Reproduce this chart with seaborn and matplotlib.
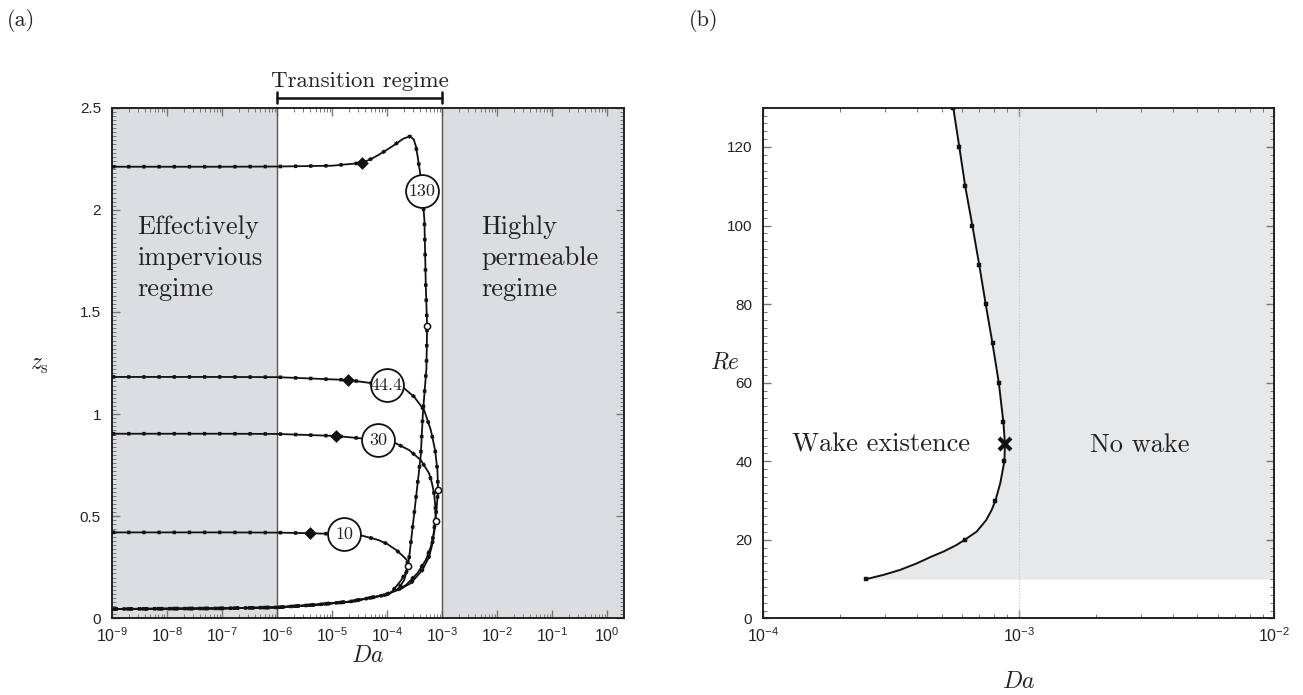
import numpy as np
import pandas as pd
import matplotlib
matplotlib.use("Agg")
import matplotlib.pyplot as plt
import matplotlib.ticker as mticker
import seaborn as sns

# ---------------- panel (a): separation position z_s against Da ----------------
re_tags = ["10", "30", "44.4", "130"]

# lower (attached) branch shared by all Re, traced from Da ~ 1e-4 back to 1e-9
da_tail = [1.2e-4, 9.3e-5, 4.4e-5, 2.1e-5, 4.7e-6, 1.0e-6, 1e-7, 1e-9]
z_tail = [0.128, 0.115, 0.098, 0.082, 0.066, 0.054, 0.049, 0.046]

da_re10 = [1e-9, 1e-7, 1e-6, 3.9e-6, 1.67e-5, 3.53e-5, 6.9e-5, 1.0e-4, 1.46e-4, 1.9e-4,
           2.28e-4, 2.42e-4, 2.15e-4, 1.78e-4, 1.45e-4]
z_re10 = [0.421, 0.421, 0.420, 0.417, 0.412, 0.405, 0.384, 0.365, 0.335, 0.308,
          0.286, 0.258, 0.220, 0.185, 0.155]

da_re30 = [1e-9, 1e-7, 1e-6, 1.19e-5, 6.98e-5, 1.445e-4, 2.52e-4, 4.10e-4, 5.81e-4, 6.5e-4,
           7.14e-4, 7.55e-4, 7.67e-4, 7.14e-4, 6.24e-4, 5.06e-4, 3.56e-4, 2.20e-4, 1.6e-4]
z_re30 = [0.904, 0.904, 0.903, 0.893, 0.873, 0.857, 0.824, 0.775, 0.710, 0.665,
          0.612, 0.547, 0.478, 0.417, 0.351, 0.286, 0.221, 0.163, 0.142]

da_re44 = [1e-9, 1e-7, 1e-6, 1.95e-5, 9.77e-5, 2.05e-4, 3.10e-4, 4.71e-4, 6.24e-4, 7.46e-4,
           8.22e-4, 8.47e-4, 7.89e-4, 7.14e-4, 6.6e-4, 5.81e-4, 4.40e-4, 2.70e-4, 1.9e-4]
z_re44 = [1.182, 1.182, 1.181, 1.167, 1.142, 1.126, 1.085, 1.020, 0.922, 0.824,
          0.726, 0.628, 0.531, 0.433, 0.360, 0.302, 0.237, 0.172, 0.150]

da_re130 = [1e-9, 1e-7, 1e-6, 1e-5, 3.53e-5, 5.12e-5, 6.9e-5, 9.29e-5, 1.26e-4, 1.96e-4,
            2.6e-4, 3.05e-4, 3.35e-4, 3.6e-4, 3.94e-4, 4.34e-4, 4.77e-4, 5.06e-4, 5.34e-4,
            5.19e-4, 4.47e-4, 4.10e-4, 3.73e-4, 3.07e-4, 2.70e-4, 2.42e-4, 2.05e-4, 1.55e-4]
z_re130 = [2.211, 2.211, 2.212, 2.216, 2.230, 2.249, 2.268, 2.289, 2.312, 2.348,
           2.360, 2.345, 2.310, 2.260, 2.190, 2.093, 1.950, 1.624, 1.431,
           1.224, 1.000, 0.800, 0.700, 0.500, 0.368, 0.258, 0.188, 0.139]

diamond_da = [3.9e-6, 1.19e-5, 1.95e-5, 3.53e-5]
diamond_z = [0.417, 0.893, 1.167, 2.230]
open_da = [2.42e-4, 7.67e-4, 8.47e-4, 5.34e-4]
open_z = [0.258, 0.478, 0.628, 1.431]
tag_da = [1.67e-5, 6.98e-5, 9.77e-5, 4.34e-4]
tag_z = [0.413, 0.873, 1.142, 2.093]

regime_bounds = [1e-6, 1e-3]

# ---------------- panel (b): wake existence boundary in (Da, Re) ----------------
re_nodes = [10, 20, 30, 40, 50, 60, 70, 80, 90, 100, 110, 120, 130]
da_nodes = [2.53e-4, 6.14e-4, 8.10e-4, 8.78e-4, 8.70e-4, 8.35e-4, 7.89e-4, 7.42e-4,
            7.00e-4, 6.58e-4, 6.17e-4, 5.85e-4, 5.54e-4]
re_line = [10, 11.07, 12.34, 14.05, 15.73, 17.0, 18.7, 20, 22.1, 25.0, 27.6, 30, 34.4, 40,
           44.4, 50, 60, 70, 80, 90, 100, 110, 120, 130]
da_line = [2.53e-4, 2.95e-4, 3.43e-4, 4.0e-4, 4.55e-4, 5.07e-4, 5.71e-4, 6.14e-4, 6.84e-4,
           7.45e-4, 7.83e-4, 8.10e-4, 8.46e-4, 8.78e-4, 8.83e-4, 8.70e-4, 8.35e-4, 7.89e-4,
           7.42e-4, 7.00e-4, 6.58e-4, 6.17e-4, 5.85e-4, 5.54e-4]
re_crit = 44.4
da_crit = 8.83e-4

# ---------------- styling ----------------
sns.set_theme(style="ticks")
plt.rcParams.update({
    "font.family": ["Liberation Sans", "DejaVu Sans"],
    "mathtext.fontset": "custom",
    "mathtext.rm": "Liberation Sans",
    "mathtext.it": "Liberation Sans:italic",
    "mathtext.bf": "Liberation Sans:bold",
    "axes.edgecolor": "#222222",
    "axes.linewidth": 1.4,
    "xtick.color": "#777777",
    "ytick.color": "#777777",
    "xtick.labelcolor": "#222222",
    "ytick.labelcolor": "#222222",
    "xtick.labelsize": 11.5,
    "ytick.labelsize": 11,
})

SERIF = "cmr10"
INK = "#111111"
GRAY_A = "#dcdde0"
GRAY_B = "#e7e8ea"

fig = plt.figure(figsize=(13.03, 6.95), dpi=100)
ax_a = fig.add_axes([112 / 1303, 1 - 618.4 / 695, 511.7 / 1303, 510.7 / 695])
ax_b = fig.add_axes([763.3 / 1303, 1 - 618.4 / 695, 511.0 / 1303, 510.7 / 695])

# ---- panel (a) ----
ax = ax_a
ax.set_xscale("log")
ax.set_xlim(1e-9, 2.0)
ax.set_ylim(0, 2.5)
ax.axvspan(1e-9, regime_bounds[0], color=GRAY_A, lw=0, zorder=0)
ax.axvspan(regime_bounds[1], 10, color=GRAY_A, lw=0, zorder=0)
for b in regime_bounds:
    ax.axvline(b, color="#555555", lw=1.0, zorder=1)

curves = [(da_re10, z_re10), (da_re30, z_re30), (da_re44, z_re44), (da_re130, z_re130)]
for da, z in curves:
    da_full = list(da) + da_tail
    z_full = list(z) + z_tail
    sns.lineplot(x=da_full, y=z_full, sort=False, estimator=None, ax=ax, color=INK,
                 lw=1.3, zorder=3)
    # small square sample marks along the branch
    ax.plot(da_full, z_full, color=INK, lw=2.6, ls=(0, (0.9, 3.3)),
            dash_capstyle="butt", solid_capstyle="butt", zorder=3)

sns.scatterplot(x=diamond_da, y=diamond_z, ax=ax, marker="D", s=36, color=INK,
                edgecolor=INK, zorder=5)
sns.scatterplot(x=open_da, y=open_z, ax=ax, marker="o", s=20, color="white",
                edgecolor=INK, linewidth=1.1, zorder=5)
sns.scatterplot(x=tag_da, y=tag_z, ax=ax, marker="o", s=560, color="white",
                edgecolor=INK, linewidth=1.3, zorder=6)
for t, x, y in zip(re_tags, tag_da, tag_z):
    ax.text(x, y, t, ha="center", va="center", fontfamily=SERIF, fontsize=13,
            color="#222222", zorder=7)

ax.text(10 ** -8.54, 1.762, "Effectively\nimpervious\nregime", ha="left", va="center",
        fontfamily=SERIF, fontsize=19, color="#222222", linespacing=1.38)
ax.text(10 ** -2.28, 1.762, "Highly\npermeable\nregime", ha="left", va="center",
        fontfamily=SERIF, fontsize=19, color="#222222", linespacing=1.38)

# transition bracket above the axes
tr = ax.get_xaxis_transform()
ax.plot(regime_bounds, [1.0196, 1.0196], transform=tr, color=INK, lw=1.8, clip_on=False)
for b in regime_bounds:
    ax.plot([b, b], [1.0086, 1.0313], transform=tr, color=INK, lw=1.8, clip_on=False)
ax.text(np.sqrt(regime_bounds[0] * regime_bounds[1]), 1.041, "Transition regime",
        transform=tr, ha="center", va="baseline", fontfamily=SERIF, fontsize=16.5,
        color="#222222")

ax.xaxis.set_major_locator(mticker.LogLocator(base=10, numticks=20))
ax.xaxis.set_minor_locator(mticker.LogLocator(base=10, subs=np.arange(2, 10), numticks=20))
ax.xaxis.set_minor_formatter(mticker.NullFormatter())
ax.yaxis.set_major_locator(mticker.MultipleLocator(0.5))
ax.yaxis.set_minor_locator(mticker.MultipleLocator(0.02))
ax.yaxis.set_major_formatter(mticker.FuncFormatter(lambda v, p: f"{v:g}"))
ax.tick_params(which="both", direction="in", top=True, right=True)
ax.tick_params(which="major", length=6, width=1.0)
ax.tick_params(which="minor", length=3, width=0.7)
ax.tick_params(axis="x", which="major", pad=6)
ax.tick_params(axis="y", which="major", pad=8)

ax.set_xlabel(r"$Da$", fontsize=17, math_fontfamily="cm", color="#222222")
ax.set_ylabel(r"$z_\mathrm{s}$", fontsize=17, math_fontfamily="cm", color="#222222",
              rotation=0)
ax.xaxis.set_label_coords(0.5, -0.074)
ax.xaxis.label.set_va("center")
ax.yaxis.set_label_coords(-0.141, 0.496)
ax.yaxis.label.set_va("center")
ax.yaxis.label.set_ha("center")

# ---- panel (b) ----
ax = ax_b
ax.set_xscale("log")
ax.set_xlim(1e-4, 1e-2)
ax.set_ylim(0, 130)
ax.fill_betweenx(re_line, da_line, 1e-2, color=GRAY_B, lw=0, zorder=0)
ax.axvline(1e-3, color="#c4c4c4", lw=0.8, ls=":", zorder=1)
sns.lineplot(x=da_line, y=re_line, sort=False, estimator=None, ax=ax, color=INK,
             lw=1.4, zorder=3)
sns.scatterplot(x=da_nodes, y=re_nodes, ax=ax, marker="s", s=9, color=INK,
                edgecolor=INK, linewidth=0.3, zorder=4)
ax.plot([da_crit], [re_crit], marker="x", ms=9, mew=3, color=INK, zorder=5)

ax.text(10 ** -3.539, 42.45, "Wake existence", ha="center", va="baseline",
        fontfamily=SERIF, fontsize=19, color="#222222")
ax.text(10 ** -2.525, 42.45, "No wake", ha="center", va="baseline",
        fontfamily=SERIF, fontsize=19, color="#222222")

ax.xaxis.set_major_locator(mticker.LogLocator(base=10, numticks=10))
ax.xaxis.set_minor_locator(mticker.LogLocator(base=10, subs=np.arange(2, 10), numticks=10))
ax.xaxis.set_minor_formatter(mticker.NullFormatter())
ax.yaxis.set_major_locator(mticker.MultipleLocator(20))
ax.yaxis.set_minor_locator(mticker.MultipleLocator(2))
ax.tick_params(which="both", direction="in", top=True, right=True)
ax.tick_params(which="major", length=6, width=1.0)
ax.tick_params(which="minor", length=3, width=0.7)
ax.tick_params(axis="x", which="major", pad=6)
ax.tick_params(axis="y", which="major", pad=8)

ax.set_xlabel(r"$Da$", fontsize=17, math_fontfamily="cm", color="#222222")
ax.set_ylabel(r"$Re$", fontsize=17, math_fontfamily="cm", color="#222222", rotation=0)
ax.xaxis.set_label_coords(0.5, -0.124)
ax.xaxis.label.set_va("center")
ax.yaxis.set_label_coords(-0.075, 0.502)
ax.yaxis.label.set_va("center")
ax.yaxis.label.set_ha("center")

fig.text(21 / 1303, 1 - 20 / 695, "(a)", ha="center", va="center", fontfamily=SERIF,
         fontsize=16, color="#222222")
fig.text(704 / 1303, 1 - 20 / 695, "(b)", ha="center", va="center", fontfamily=SERIF,
         fontsize=16, color="#222222")

fig.savefig("out.png", dpi=100)
